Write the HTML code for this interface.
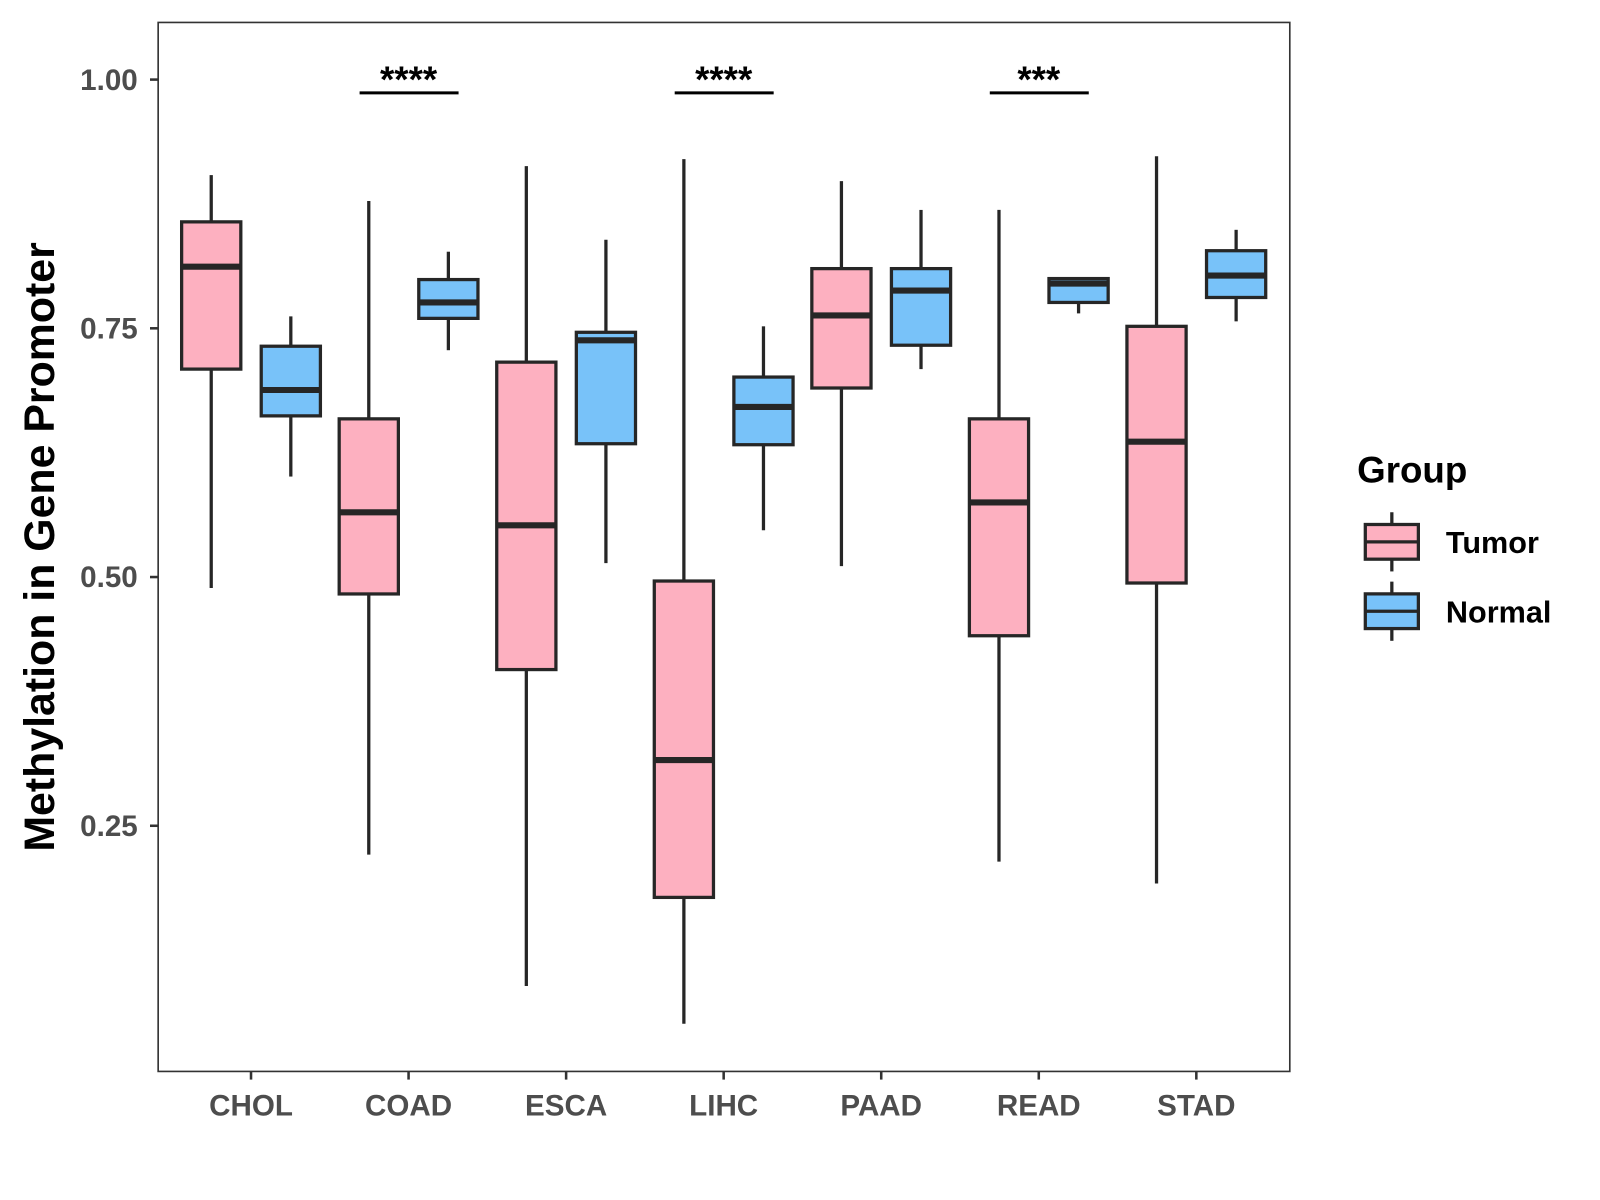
<!DOCTYPE html>
<html><head><meta charset="utf-8"><style>
html,body{margin:0;padding:0;background:#fff;}
svg{display:block;font-family:"Liberation Sans",Arial,sans-serif;}
</style></head><body>
<svg id="chart" width="1600" height="1200" viewBox="0 0 1568 1176" xmlns="http://www.w3.org/2000/svg">
<rect x="0" y="0" width="1568" height="1176" fill="#fff"/>
<g id="plot"></g>
</svg>
<script>
const categories = ["CHOL","COAD","ESCA","LIHC","PAAD","READ","STAD"];
// [lower whisker, Q1, median, Q3, upper whisker]
const tumorStats = [
 [0.489,0.709,0.812,0.857,0.904],
 [0.221,0.483,0.565,0.659,0.878],
 [0.089,0.407,0.552,0.716,0.913],
 [0.051,0.178,0.316,0.496,0.920],
 [0.511,0.690,0.763,0.810,0.898],
 [0.214,0.441,0.575,0.659,0.869],
 [0.192,0.494,0.636,0.752,0.923]
];
const normalStats = [
 [0.601,0.662,0.688,0.732,0.762],
 [0.728,0.760,0.776,0.799,0.827],
 [0.514,0.634,0.738,0.746,0.839],
 [0.547,0.633,0.671,0.701,0.752],
 [0.709,0.733,0.788,0.810,0.869],
 [0.765,0.776,0.795,0.800,0.801],
 [0.757,0.781,0.803,0.828,0.849]
];
const yTicks = [0.25,0.50,0.75,1.00];
const yTickLabels = ["0.25","0.50","0.75","1.00"];
const sigCategories = ["COAD","LIHC","READ"];
const sigLabels = ["****","****","***"];

const NS="http://www.w3.org/2000/svg";
const g=document.getElementById('plot');
const panel={x0:155,x1:1264,y0:22,y1:1050};
function yScale(v){return 78+(1-v)*975;}
function xScale(i){return 246+i*154.4;}
function mk(tag,attrs,parent){const e=document.createElementNS(NS,tag);for(const k in attrs)e.setAttribute(k,attrs[k]);(parent||g).appendChild(e);return e;}

const border=mk('rect',{x:panel.x0,y:panel.y0,width:panel.x1-panel.x0,height:panel.y1-panel.y0,fill:'none',stroke:'#333','stroke-width':1.6});



yTicks.forEach((t,i)=>{
 const y=yScale(t);
 const tk=mk('line',{x1:panel.x0-8,x2:panel.x0,y1:y,y2:y,stroke:'#333','stroke-width':2.5});
 
 
 const tx=mk('text',{x:panel.x0-20,y:y+10,'text-anchor':'end','font-size':29,'font-weight':'bold',fill:'#4d4d4d'});
 tx.textContent=yTickLabels[i];
 
 
});

categories.forEach((c,i)=>{
 const x=xScale(i);
 const tk=mk('line',{x1:x,x2:x,y1:panel.y1,y2:panel.y1+8,stroke:'#333','stroke-width':2.5});
 
 
 const tx=mk('text',{x:x,y:1093,'text-anchor':'middle','font-size':29,'font-weight':'bold',fill:'#4d4d4d'});
 tx.textContent=c;
 
 
});

function drawBox(cx,s,fill,name){
 const w=58;
 const grp=mk('g',{});
 
 
 mk('line',{x1:cx,x2:cx,y1:yScale(s[4]),y2:yScale(s[3]),stroke:'#262626','stroke-width':3.2},grp);
 mk('line',{x1:cx,x2:cx,y1:yScale(s[1]),y2:yScale(s[0]),stroke:'#262626','stroke-width':3.2},grp);
 mk('rect',{x:cx-w/2,y:yScale(s[3]),width:w,height:yScale(s[1])-yScale(s[3]),fill:fill,stroke:'#262626','stroke-width':3.2},grp);
 mk('line',{x1:cx-w/2,x2:cx+w/2,y1:yScale(s[2]),y2:yScale(s[2]),stroke:'#262626','stroke-width':6},grp);
}
categories.forEach((c,i)=>{
 drawBox(xScale(i)-39,tumorStats[i],'#FDB0C0','box-tumor-'+c.toLowerCase());
 drawBox(xScale(i)+39,normalStats[i],'#78C2F9','box-normal-'+c.toLowerCase());
});

sigCategories.forEach((c,k)=>{
 const i=categories.indexOf(c);
 const x=xScale(i);
 const ln=mk('line',{x1:x-48,x2:x+49,y1:91,y2:91,stroke:'#000','stroke-width':3});
 
 
 const tx=mk('text',{x:x,y:90,'text-anchor':'middle','font-size':36,'font-weight':'bold',fill:'#000'});
 tx.textContent=sigLabels[k];
 
 
});

const yt=mk('text',{x:0,y:0,transform:'translate(53,536) rotate(-90)','text-anchor':'middle','font-size':42,'font-weight':'bold',fill:'#000'});
yt.textContent='Methylation in Gene Promoter';



const lt=mk('text',{x:1330,y:473,'font-size':36,'font-weight':'bold',fill:'#000'});
lt.textContent='Group';



[['Tumor','#FDB0C0',514],['Normal','#78C2F9',582]].forEach(([lab,col,y])=>{
 const grp=mk('g',{});
 
 
 mk('line',{x1:1364,x2:1364,y1:y-12,y2:y+46,stroke:'#262626','stroke-width':3.2},grp);
 mk('rect',{x:1338,y:y,width:52,height:34,fill:col,stroke:'#262626','stroke-width':3.2},grp);
 mk('line',{x1:1338,x2:1390,y1:y+17,y2:y+17,stroke:'#262626','stroke-width':3.2},grp);
 const t=mk('text',{x:1417,y:y+28,'font-size':30,'font-weight':'bold',fill:'#000'},grp);
 t.textContent=lab;
});
</script>
</body></html>
